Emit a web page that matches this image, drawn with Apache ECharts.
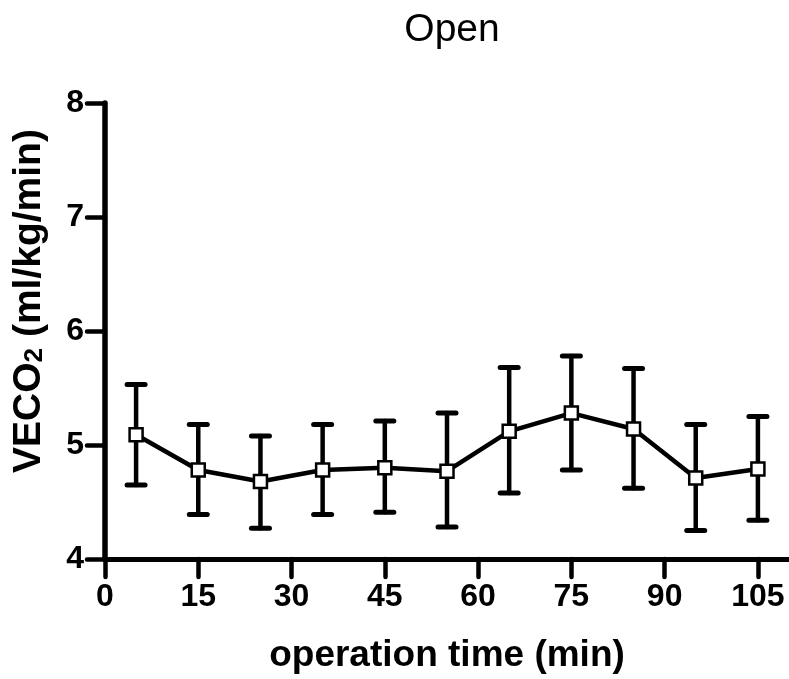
<!DOCTYPE html>
<html>
<head>
<meta charset="utf-8">
<title>Open</title>
<script src="https://cdn.jsdelivr.net/npm/echarts@6.0.0/dist/echarts.min.js"></script>
<style>
  html, body { margin: 0; padding: 0; background: #fff; }
  #chart { width: 789px; height: 679px; }
</style>
</head>
<body>
<div id="chart"></div>
<script>
  // operation time (min) and VECO2 mean with error bar ends
  var times = [5, 15, 25, 35, 45, 55, 65, 75, 85, 95, 105];
  var means = [5.09, 4.78, 4.68, 4.78, 4.80, 4.77, 5.12, 5.28, 5.14, 4.71, 4.79];
  var upper = [5.53, 5.18, 5.08, 5.18, 5.21, 5.28, 5.68, 5.78, 5.67, 5.18, 5.25];
  var lower = [4.65, 4.39, 4.27, 4.39, 4.41, 4.28, 4.58, 4.78, 4.62, 4.25, 4.34];
  var xTicks = [0, 15, 30, 45, 60, 75, 90, 105];

  var FONT = '"Liberation Sans", Arial, sans-serif';

  var chart = echarts.init(document.getElementById('chart'));

  var lineData = times.map(function (t, i) { return [t, means[i]]; });
  var errData = times.map(function (t, i) { return [t, lower[i], upper[i]]; });

  function renderError(params, api) {
    var x = api.value(0);
    var lo = api.coord([x, api.value(1)]);
    var hi = api.coord([x, api.value(2)]);
    var half = 9;
    var st = { stroke: '#000', lineWidth: 4.5, lineCap: 'round' };
    var cap = { stroke: '#000', lineWidth: 5, lineCap: 'round' };
    return {
      type: 'group',
      children: [
        { type: 'line', shape: { x1: lo[0], y1: lo[1], x2: hi[0], y2: hi[1] }, style: st },
        { type: 'line', shape: { x1: hi[0] - half, y1: hi[1], x2: hi[0] + half, y2: hi[1] }, style: cap },
        { type: 'line', shape: { x1: lo[0] - half, y1: lo[1], x2: lo[0] + half, y2: lo[1] }, style: cap }
      ]
    };
  }

  chart.setOption({
    animation: false,
    backgroundColor: '#fff',
    title: {
      text: 'Open',
      left: 447,
      top: 6,
      textAlign: 'center',
      textStyle: { fontFamily: FONT, fontSize: 39, fontWeight: 'normal', color: '#000' }
    },
    grid: { left: 105, right: 0, top: 103, bottom: 120, outerBoundsMode: 'none' },
    xAxis: {
      type: 'value',
      min: 0,
      max: 110,
      interval: 15,
      splitLine: { show: false },
      axisLine: { lineStyle: { color: '#000', width: 5 } },
      axisTick: { customValues: xTicks, length: 18, lineStyle: { color: '#000', width: 4.5, cap: 'round' } },
      axisLabel: {
        customValues: xTicks,
        margin: 22,
        fontFamily: FONT, fontSize: 32, fontWeight: 'bold', color: '#000'
      },
      name: 'operation time (min)',
      nameLocation: 'middle',
      nameGap: 78,
      nameTextStyle: { fontFamily: FONT, fontSize: 37, fontWeight: 'bold', color: '#000' }
    },
    yAxis: {
      type: 'value',
      min: 4,
      max: 8,
      interval: 1,
      splitLine: { show: false },
      axisLine: { lineStyle: { color: '#000', width: 5.5 } },
      axisTick: { length: 18, lineStyle: { color: '#000', width: 4.5, cap: 'round' } },
      axisLabel: {
        margin: 21,
        fontFamily: FONT, fontSize: 32, fontWeight: 'bold', color: '#000'
      }
    },
    graphic: [{
      type: 'text',
      x: 29,
      y: 301,
      rotation: Math.PI / 2,
      style: {
        text: '{a|VECO}{s|2}{a| (ml/kg/min)}',
        align: 'center',
        verticalAlign: 'middle',
        rich: {
          a: { fontFamily: FONT, fontSize: 39, fontWeight: 'bold', fill: '#000' },
          s: { fontFamily: FONT, fontSize: 26, fontWeight: 'bold', fill: '#000', padding: [12, 0, 0, 0] }
        }
      }
    }],
    series: [
      {
        type: 'custom',
        renderItem: renderError,
        data: errData,
        encode: { x: 0, y: [1, 2] },
        z: 1
      },
      {
        type: 'line',
        data: lineData,
        symbol: 'rect',
        symbolSize: 13,
        lineStyle: { color: '#000', width: 4.5 },
        itemStyle: { color: '#fff', borderColor: '#000', borderWidth: 2.5 },
        z: 3
      }
    ]
  });
</script>
</body>
</html>
